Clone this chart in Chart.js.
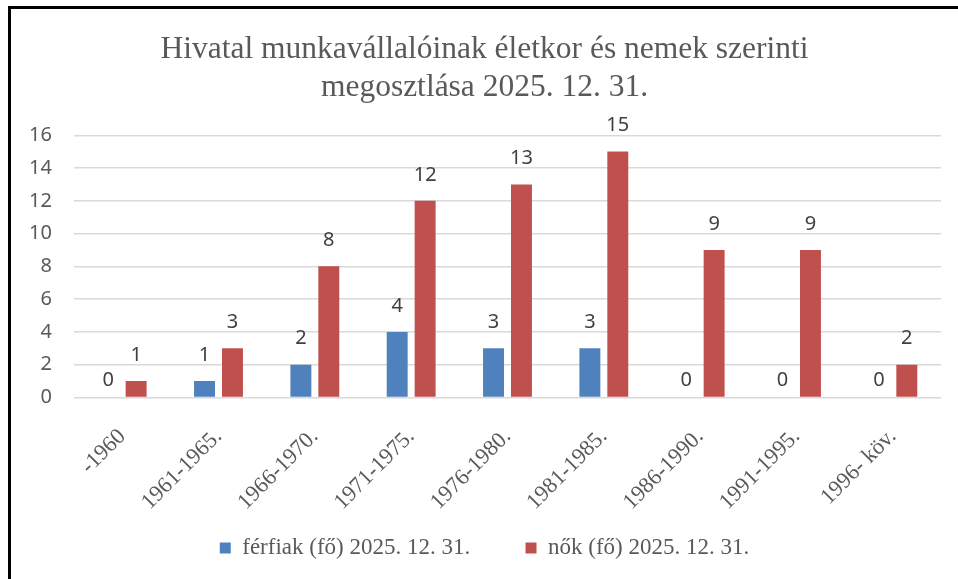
<!DOCTYPE html>
<html>
<head>
<meta charset="utf-8">
<script src="https://cdn.jsdelivr.net/npm/chart.js@4.4.1/dist/chart.umd.min.js"></script>
<style>
  html, body { margin: 0; padding: 0; background: #fff; overflow: hidden; }
  #frame { position: absolute; left: 8px; top: 6px; width: 1200px; height: 800px;
           border-left: 3px solid #000; border-top: 3px solid #000; }
  #wrap { position: absolute; left: 0; top: 0; width: 958px; height: 579px; }
</style>
</head>
<body>
<div id="frame"></div>
<div id="wrap"><canvas id="chart" width="958" height="579"></canvas></div>
<script>
// data
const categories = ['-1960', '1961-1965.', '1966-1970.', '1971-1975.', '1976-1980.',
                    '1981-1985.', '1986-1990.', '1991-1995.', '1996- köv.'];
const menValues = [0, 1, 2, 4, 3, 3, 0, 0, 0];
const womenValues = [1, 3, 8, 12, 13, 15, 9, 9, 2];
const seriesNames = ['férfiak (fő) 2025. 12. 31.', 'nők (fő) 2025. 12. 31.'];
const titleLines = ['Hivatal munkavállalóinak életkor és nemek szerinti', 'megosztlása 2025. 12. 31.'];
const yMax = 16;
const yStep = 2;

const grey = '#595959';
const serif = '"Liberation Serif", "Times New Roman", serif';
const sans = '"Noto Sans", "Open Sans", sans-serif';

// value labels above each bar
const barLabels = {
    id: 'barLabels',
    afterDatasetsDraw(chart) {
        const ctx = chart.ctx;
        ctx.save();
        ctx.font = '20px ' + sans;
        ctx.fillStyle = '#404040';
        ctx.textAlign = 'center';
        ctx.textBaseline = 'middle';
        chart.data.datasets.forEach((ds, i) => {
            chart.getDatasetMeta(i).data.forEach((bar, j) => {
                const v = ds.data[j];
                ctx.fillText(String(v), bar.x, bar.y - (v === 0 ? 17 : 26));
            });
        });
        ctx.restore();
    }
};

new Chart(document.getElementById('chart'), {
    type: 'bar',
    data: {
        labels: categories,
        datasets: [
            {
                label: seriesNames[0],
                data: menValues,
                backgroundColor: '#4F81BD',
                borderWidth: 0,
                categoryPercentage: 0.58,
                barPercentage: 0.75
            },
            {
                label: seriesNames[1],
                data: womenValues,
                backgroundColor: '#C0504D',
                borderWidth: 0,
                categoryPercentage: 0.58,
                barPercentage: 0.75
            }
        ]
    },
    options: {
        responsive: false,
        animation: false,
        layout: { padding: { left: 28, right: 17, top: 0, bottom: 9.5 } },
        plugins: {
            title: {
                display: true,
                text: titleLines,
                color: grey,
                font: { family: serif, size: 31.5, weight: 'normal', lineHeight: 1.21 },
                padding: { top: 31, bottom: 28 }
            },
            legend: {
                position: 'bottom',
                labels: {
                    boxWidth: 11,
                    boxHeight: 11,
                    padding: 26.5,
                    color: grey,
                    font: { family: serif, size: 23 },
                    // wider gap after the first entry, like the original
                    generateLabels: chart => {
                        const items = Chart.defaults.plugins.legend.labels.generateLabels(chart);
                        items[0].text += '\u00a0\u00a0\u00a0\u00a0\u00a0';
                        return items;
                    }
                }
            },
            tooltip: { enabled: false }
        },
        scales: {
            x: {
                grid: { display: false, drawTicks: false },
                border: { display: false },
                ticks: {
                    color: grey,
                    font: { family: serif, size: 22.5 },
                    minRotation: 45,
                    maxRotation: 45,
                    autoSkip: false,
                    padding: 26
                },
                afterFit: s => { s.height = 112.5; }
            },
            y: {
                min: 0,
                max: yMax,
                grid: { color: '#d9d9d9', lineWidth: 1.4, drawTicks: false },
                border: { display: false },
                ticks: {
                    stepSize: yStep,
                    color: grey,
                    font: { family: sans, size: 20 },
                    padding: 22
                },
                afterFit: s => { s.width = 46; }
            }
        }
    },
    plugins: [barLabels]
});
</script>
</body>
</html>
